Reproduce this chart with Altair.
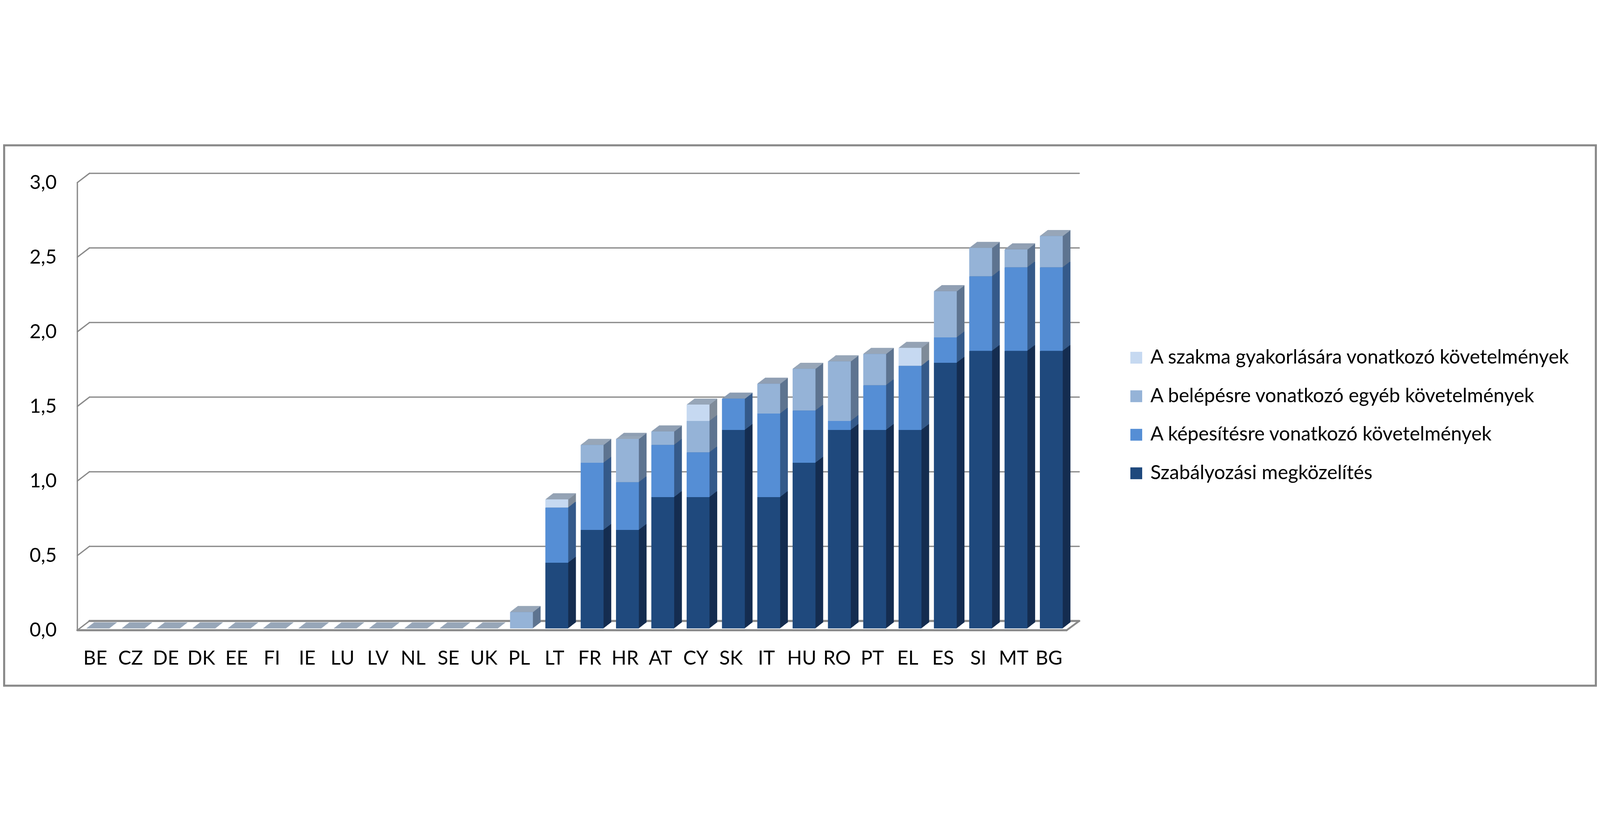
import altair as alt
import pandas as pd

# ---------------- data ----------------
countries = ["BE", "CZ", "DE", "DK", "EE", "FI", "IE", "LU", "LV", "NL", "SE", "UK", "PL",
             "LT", "FR", "HR", "AT", "CY", "SK", "IT", "HU", "RO", "PT", "EL", "ES", "SI", "MT", "BG"]

szabalyozasi = [0, 0, 0, 0, 0, 0, 0, 0, 0, 0, 0, 0, 0,
                0.44, 0.66, 0.66, 0.88, 0.88, 1.33, 0.88, 1.11, 1.33, 1.33, 1.33, 1.78, 1.86, 1.86, 1.86]
kepesitesre = [0, 0, 0, 0, 0, 0, 0, 0, 0, 0, 0, 0, 0,
               0.37, 0.45, 0.32, 0.35, 0.30, 0.21, 0.56, 0.35, 0.06, 0.30, 0.43, 0.17, 0.50, 0.56, 0.56]
belepesre = [0, 0, 0, 0, 0, 0, 0, 0, 0, 0, 0, 0, 0.11,
             0, 0.12, 0.29, 0.09, 0.21, 0, 0.20, 0.28, 0.40, 0.21, 0, 0.31, 0.19, 0.12, 0.21]
gyakorlasara = [0, 0, 0, 0, 0, 0, 0, 0, 0, 0, 0, 0, 0,
                0.055, 0, 0, 0, 0.11, 0, 0, 0, 0, 0, 0.12, 0, 0, 0, 0]

# stacking order: bottom -> top
series_names = ["Szabályozási megközelítés",
                "A képesítésre vonatkozó követelmények",
                "A belépésre vonatkozó egyéb követelmények",
                "A szakma gyakorlására vonatkozó követelmények"]
series_values = [szabalyozasi, kepesitesre, belepesre, gyakorlasara]

y_ticks = [0, 0.5, 1.0, 1.5, 2.0, 2.5, 3.0]

# ---------------- styles ----------------
front_colors = ["#1F497D", "#558ED5", "#95B3D7", "#C6D9F1"]
side_colors = ["#152D50", "#355A8A", "#5E7490", "#7F8B99"]
cap_color = "#97A6B8"
grid_color = "#898989"
FONT = "Lato"
FS = 76

rows = []
for rank, (name, vals) in enumerate(zip(series_names, series_values)):
    for c, v in zip(countries, vals):
        rows.append({"country": c, "series": name, "value": v, "rank": rank})
df = pd.DataFrame(rows)
grid_df = pd.DataFrame({"v": y_ticks})
one_df = pd.DataFrame({"a": [0]})

W, H = 3850, 1743
DX, DY = 30.0, 23.0
N = 15
dx, dy = DX / N, DY / N
BACK_DY = -29      # back wall offset (px) relative to front plane
FRONT_DY = 7       # floor front edge offset
WALL_X0, WALL_X1 = -10, 37
GRID_X1 = 3890
FLOOR_X1 = 3841

y_scale = alt.Scale(domain=[0, 3], nice=False, zero=True)
x_scale = alt.Scale(paddingInner=0.3527, paddingOuter=0.1764)

x_axis = alt.Axis(title=None, ticks=False, tickSize=0, domain=False, grid=False,
                  labelFont=FONT, labelFontSize=FS, labelColor="#000000",
                  labelPadding=80, labelAngle=0, labelOffset=-9)
y_axis = alt.Axis(title=None, ticks=False, tickSize=0, domain=False, grid=False,
                  values=y_ticks, labelFont=FONT, labelFontSize=FS, labelColor="#000000",
                  labelPadding=91, labelOffset=8,
                  labelExpr="replace(format(datum.value, '.1f'), '.', ',')")

x_enc = alt.X("country:N", sort=countries, scale=x_scale, axis=x_axis)

layers = []

# back wall gridlines
layers.append(
    alt.Chart(grid_df).mark_rule(color=grid_color, strokeWidth=5, strokeCap="round",
                                 yOffset=BACK_DY)
    .encode(y=alt.Y("v:Q", scale=y_scale, axis=y_axis),
            x=alt.value(WALL_X1), x2=alt.value(GRID_X1))
)
# left wall diagonals
layers.append(
    alt.Chart(grid_df).mark_rule(color=grid_color, strokeWidth=5, strokeCap="round",
                                 yOffset=FRONT_DY, y2Offset=BACK_DY)
    .encode(y=alt.Y("v:Q", scale=y_scale), y2=alt.Y2("v"),
            x=alt.value(WALL_X0), x2=alt.value(WALL_X1))
)
# left wall vertical edge
layers.append(
    alt.Chart(one_df).mark_rule(color=grid_color, strokeWidth=5, strokeCap="round",
                                yOffset=FRONT_DY, y2Offset=FRONT_DY)
    .encode(y=alt.Y(datum=3, scale=y_scale), y2=alt.Y2(datum=0),
            x=alt.value(WALL_X0))
)
# floor: back edge thicker, front edge, right edge
layers.append(
    alt.Chart(one_df).mark_rule(color=grid_color, strokeWidth=8, strokeCap="round",
                                yOffset=BACK_DY)
    .encode(y=alt.Y(datum=0, scale=y_scale), x=alt.value(WALL_X1), x2=alt.value(GRID_X1))
)
layers.append(
    alt.Chart(one_df).mark_rule(color=grid_color, strokeWidth=8, strokeCap="round",
                                yOffset=FRONT_DY)
    .encode(y=alt.Y(datum=0, scale=y_scale), x=alt.value(WALL_X0), x2=alt.value(FLOOR_X1))
)
layers.append(
    alt.Chart(one_df).mark_rule(color=grid_color, strokeWidth=7, strokeCap="round",
                                yOffset=FRONT_DY, y2Offset=BACK_DY)
    .encode(y=alt.Y(datum=0, scale=y_scale), y2=alt.Y2(datum=0),
            x=alt.value(FLOOR_X1), x2=alt.value(GRID_X1))
)

# side faces (3D depth), back to front
for k in range(N, 0, -1):
    layers.append(
        alt.Chart(df).mark_bar(xOffset=k * dx, yOffset=-k * dy, y2Offset=-k * dy)
        .encode(x=x_enc,
                y=alt.Y("value:Q", stack="zero", scale=y_scale),
                color=alt.Color("series:N",
                                scale=alt.Scale(domain=series_names, range=side_colors),
                                legend=None),
                order=alt.Order("rank:Q", sort="ascending"))
    )

# top caps
for k in range(1, N + 1):
    layers.append(
        alt.Chart(df).transform_aggregate(total="sum(value)", groupby=["country"])
        .mark_bar(color=cap_color, xOffset=k * dx, yOffset=-k * dy - 0.4,
                  y2Offset=-(k - 1) * dy)
        .encode(x=x_enc,
                y=alt.Y("total:Q", scale=y_scale),
                y2=alt.Y2("total"))
    )

# front faces
legend_order = series_names[::-1]
legend_colors = front_colors[::-1]
layers.append(
    alt.Chart(df).mark_bar()
    .encode(x=x_enc,
            y=alt.Y("value:Q", stack="zero", scale=y_scale),
            color=alt.Color("series:N",
                            scale=alt.Scale(domain=legend_order, range=legend_colors),
                            legend=alt.Legend(title=None, orient="none",
                                              legendX=4074, legendY=651,
                                              symbolType="square", symbolSize=2116,
                                              symbolStrokeWidth=0,
                                              labelFont=FONT, labelFontSize=FS,
                                              labelColor="#000000", labelLimit=0,
                                              labelOffset=17, rowPadding=74,
                                              padding=0)),
            order=alt.Order("rank:Q", sort="ascending"))
)

# outer frame
layers.append(
    alt.Chart(one_df).mark_rect(fill=None, fillOpacity=0, stroke=grid_color, strokeWidth=8)
    .encode(x=alt.value(-295), x2=alt.value(W + 2051),
            y=alt.value(-138), y2=alt.value(H + 223))
)

chart = (
    alt.layer(*layers)
    .resolve_scale(color="independent")
    .properties(width=W, height=H,
                autosize=alt.AutoSizeParams(type="none"),
                padding={"left": 299, "top": 142, "right": 2055, "bottom": 227},
                background="#FFFFFF")
    .configure_view(stroke=None)
)

chart.save("out.html", embed_options={"renderer": "svg", "actions": False})
